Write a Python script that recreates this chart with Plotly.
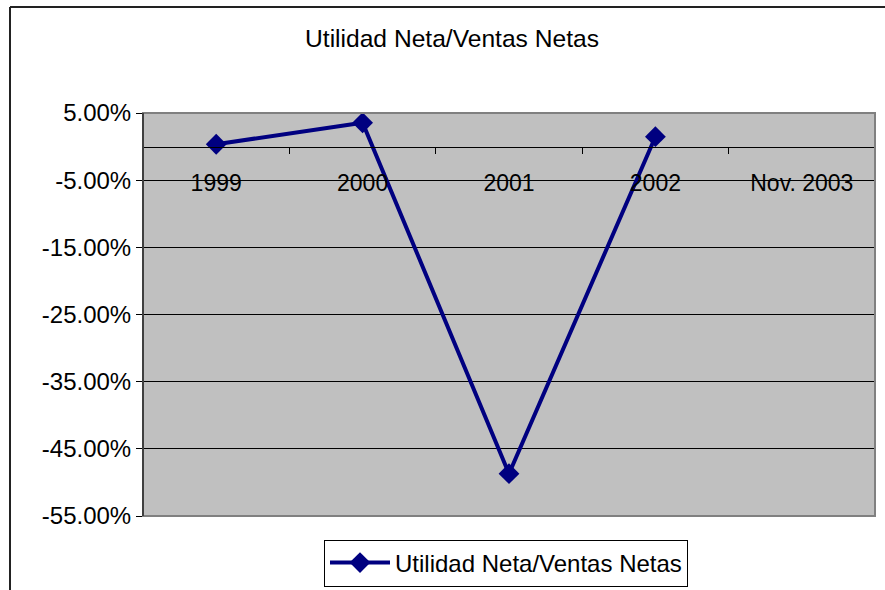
import plotly.graph_objects as go

categories = ["1999", "2000", "2001", "2002", "Nov. 2003"]
values = [0.35, 3.55, -48.7, 1.47, None]
series_name = "Utilidad Neta/Ventas Netas"
title_text = "Utilidad Neta/Ventas Netas"
y_ticks = [5, -5, -15, -25, -35, -45, -55]
y_tick_labels = [f"{v:.2f}%" for v in y_ticks]

W, H = 885, 590
L, R, T, B = 143, 10, 113, 74
pw = W - L - R
ph = H - T - B
FONT = "Liberation Sans, Arial, sans-serif"

y_min, y_max = min(y_ticks), max(y_ticks)

fig = go.Figure()
fig.add_trace(go.Scatter(
    x=categories, y=values, name=series_name, mode="lines+markers",
    line=dict(color="#000080", width=4),
    marker=dict(symbol="diamond", size=16, color="#000080"),
    connectgaps=False,
))

zero_pos = (0 - y_min) / (y_max - y_min)

fig.update_layout(
    width=W, height=H,
    margin=dict(l=L, r=R, t=T, b=B, autoexpand=False),
    paper_bgcolor="white", plot_bgcolor="#C0C0C0",
    font=dict(family=FONT, size=24, color="black"),
    title=dict(text=title_text, xref="container", x=452 / W, xanchor="center",
               yref="container", y=1 - 38 / H, yanchor="middle",
               font=dict(family=FONT, size=24.6, color="black")),
    showlegend=True,
    legend=dict(orientation="h", x=(506 - L) / pw, xanchor="center",
                y=-(563 - (T + ph)) / ph, yanchor="middle",
                bgcolor="white", bordercolor="black", borderwidth=1,
                itemwidth=60,
                font=dict(family=FONT, size=24, color="black")),
    xaxis=dict(type="category", range=[-0.5, 4.5], anchor="free", position=zero_pos,
               showline=True, linecolor="black", linewidth=1, automargin=False,
               ticks="outside", tickson="boundaries", ticklen=6, tickcolor="black",
               showgrid=False, zeroline=False, ticklabelstandoff=16,
               tickfont=dict(family=FONT, size=23, color="black")),
    yaxis=dict(range=[y_min, y_max], tickmode="array", tickvals=y_ticks,
               ticktext=y_tick_labels, automargin=False,
               showline=True, linecolor="black", linewidth=1,
               ticks="outside", ticklen=6, tickcolor="black",
               showgrid=True, gridcolor="black", gridwidth=1, zeroline=False,
               tickfont=dict(family=FONT, size=24, color="black")),
)

# plot area border (gray) and outer chart border
fig.add_shape(type="rect", xref="paper", yref="paper", x0=0, x1=1, y0=0, y1=1,
              line=dict(color="#808080", width=2), layer="above")
fig.add_shape(type="line", xref="paper", yref="paper", x0=0, x1=0, y0=0, y1=1,
              line=dict(color="black", width=1), layer="above")
x_left = (10 - L) / pw
y_top = 1 + (T - 7) / ph
y_bot = -(H - T - ph + 5) / ph
x_right = 1 + (R + 5) / pw
fig.add_shape(type="line", xref="paper", yref="paper", x0=x_left, x1=x_left, y0=y_bot, y1=y_top,
              line=dict(color="#222222", width=2))
fig.add_shape(type="line", xref="paper", yref="paper", x0=x_left, x1=x_right, y0=y_top, y1=y_top,
              line=dict(color="#222222", width=2))

fig.write_html("out.html", config={"displayModeBar": False},
               post_script="document.body.style.margin='0';document.body.style.padding='0';")
